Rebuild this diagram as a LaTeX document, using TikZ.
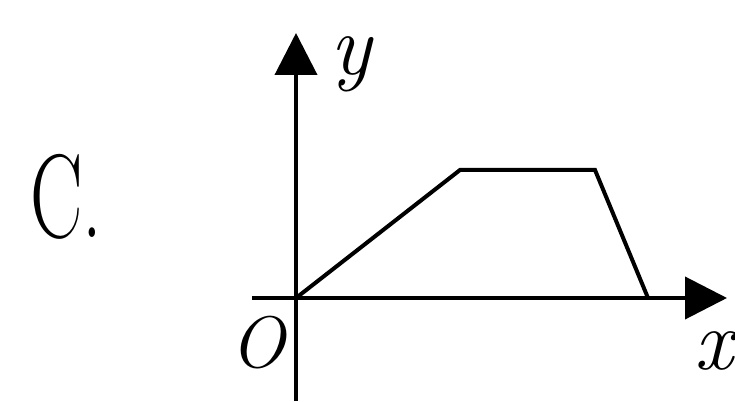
\documentclass[tikz,border=0pt]{standalone}
\usepackage{fontspec}
\usetikzlibrary{arrows.meta}
\tikzset{
  axisline/.style = {-{Triangle[length=42pt, width=42pt]}, line width=4pt, black},
  graphline/.style = {line width=4pt, black, line join=miter},
  lbl/.style = {font=\fontsize{86}{86}\selectfont\itshape, inner sep=0pt},
  olbl/.style = {font=\fontsize{73}{73}\selectfont\itshape, inner sep=0pt},
  choice/.style = {font=\fontsize{119}{119}\selectfont, inner sep=0pt},
}
\begin{document}
\begin{tikzpicture}[x=1pt, y=1pt]
  \useasboundingbox (0,0) rectangle (735,401);
  % axes
  \coordinate (xstart) at (252,103);
  \coordinate (xend) at (727,103);
  \coordinate (ystart) at (296,0);
  \coordinate (yend) at (296,368);
  \draw[axisline] (xstart) -- (xend);
  \draw[axisline] (ystart) -- (yend);
  % the graph: rise, flat, fall
  \coordinate (O) at (296,103);
  \coordinate (p1) at (460,231);
  \coordinate (p2) at (595,231);
  \coordinate (p3) at (648,103);
  \draw[graphline] (O) -- (p1) -- (p2) -- (p3);
  % labels
  \node[lbl, anchor=base west] (ylbl) at (330,326) {y};
  \node[lbl, anchor=base west] (xlbl) at (694,31) {x};
  \node[olbl, anchor=base west] (olbl) at (230,33) {O};
  \node[choice, anchor=base west] (opt) at (30,163) {\scalebox{0.66}[1]{C.}};
\end{tikzpicture}
\end{document}
